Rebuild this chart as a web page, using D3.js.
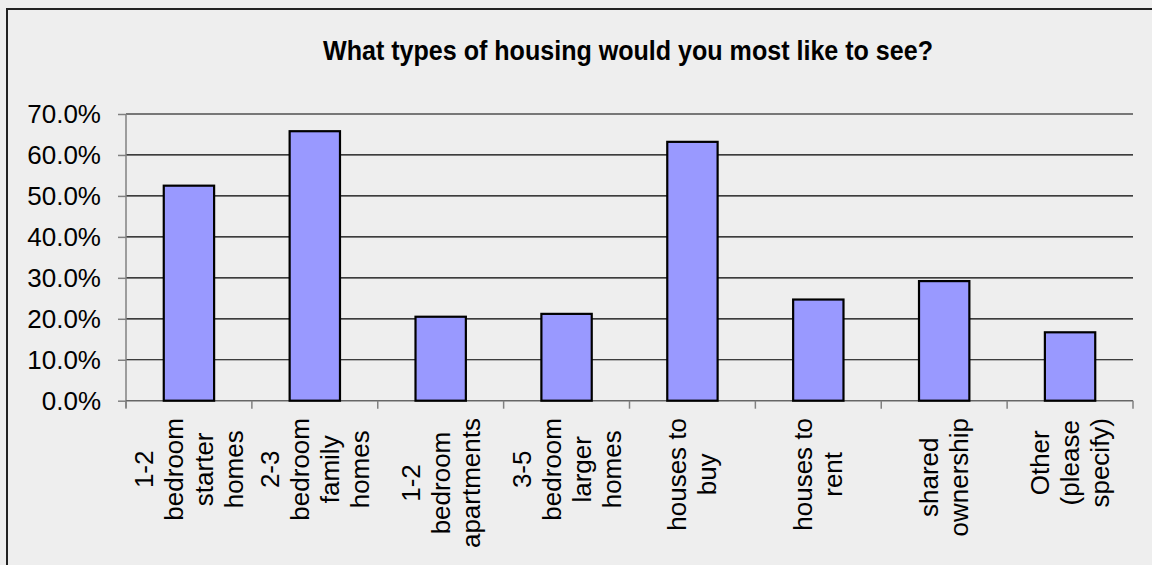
<!DOCTYPE html>
<html>
<head>
<meta charset="utf-8">
<script src="https://cdn.jsdelivr.net/npm/d3@7"></script>
<style>
  html, body { margin: 0; padding: 0; background: #eeeeee; }
  svg { display: block; }
</style>
</head>
<body>
<svg id="chart" width="1152" height="565"></svg>
<script>
// Survey answers: share of respondents choosing each housing type
const categories = [
  "1-2 bedroom starter homes",
  "2-3 bedroom family homes",
  "1-2 bedroom apartments",
  "3-5 bedroom larger homes",
  "houses to buy",
  "houses to rent",
  "shared ownership",
  "Other (please specify)"
];
// Wrapped category labels, one entry per line
const categoryLines = [
  ["1-2", "bedroom", "starter", "homes"],
  ["2-3", "bedroom", "family", "homes"],
  ["1-2", "bedroom", "apartments"],
  ["3-5", "bedroom", "larger", "homes"],
  ["houses to", "buy"],
  ["houses to", "rent"],
  ["shared", "ownership"],
  ["Other", "(please", "specify)"]
];
const percentages = [52.5, 65.8, 20.5, 21.2, 63.2, 24.7, 29.2, 16.7];
const yTicks = [0, 10, 20, 30, 40, 50, 60, 70];
const title = "What types of housing would you most like to see?";

const svg = d3.select("#chart");
const plot = { left: 126, right: 1133, top: 114, bottom: 400.7 };
const labelFont = "'Liberation Sans', Arial, sans-serif";

// Outer chart frame (continues past the right and bottom edges)
svg.append("rect")
  .attr("x", 7).attr("y", 9)
  .attr("width", 1200).attr("height", 600)
  .attr("fill", "#eeeeee")
  .attr("stroke", "#222").attr("stroke-width", 2);

const x = d3.scaleBand()
  .domain(categories)
  .range([plot.left, plot.right])
  .paddingInner(0.6)
  .paddingOuter(0.3);

const y = d3.scaleLinear()
  .domain([0, 70])
  .range([plot.bottom, plot.top]);

// Horizontal gridlines
svg.append("g")
  .selectAll("line")
  .data(yTicks.filter(d => d > 0))
  .join("line")
  .attr("x1", plot.left).attr("x2", plot.right)
  .attr("y1", d => y(d)).attr("y2", d => y(d))
  .attr("stroke", "#000").attr("stroke-width", 1.2);

// Y axis
const yAxis = svg.append("g")
  .attr("transform", `translate(${plot.left},0)`)
  .call(d3.axisLeft(y).tickValues(yTicks).tickSize(8).tickPadding(17)
    .tickFormat(d => d.toFixed(1) + "%"));
yAxis.select(".domain").attr("stroke", "#808080").attr("stroke-width", 1.5)
  .attr("d", `M0,${plot.top}V${plot.bottom + 7}`);
yAxis.selectAll(".tick line").attr("stroke", "#808080").attr("stroke-width", 1.5);
yAxis.selectAll(".tick text")
  .attr("font-family", labelFont).attr("font-size", 26).attr("fill", "#000");

// X axis: ticks at category boundaries
const step = x.step();
const boundaries = d3.range(categories.length + 1).map(i => plot.left + i * step);
svg.append("line")
  .attr("x1", plot.left).attr("x2", plot.right)
  .attr("y1", plot.bottom).attr("y2", plot.bottom)
  .attr("stroke", "#666").attr("stroke-width", 1.5);
svg.append("g")
  .selectAll("line")
  .data(boundaries)
  .join("line")
  .attr("x1", d => d).attr("x2", d => d)
  .attr("y1", plot.bottom).attr("y2", plot.bottom + 8)
  .attr("stroke", "#808080").attr("stroke-width", 1.5);

// Bars
svg.append("g")
  .selectAll("rect")
  .data(percentages)
  .join("rect")
  .attr("x", (d, i) => x(categories[i]))
  .attr("width", x.bandwidth())
  .attr("y", d => y(d))
  .attr("height", d => y(0) - y(d))
  .attr("fill", "#9999ff")
  .attr("stroke", "#000").attr("stroke-width", 2.2);

// Rotated, centre-aligned category labels hanging below the axis
const lineGap = 30;
const labelTop = 418;
categoryLines.forEach((lines, i) => {
  const cx = x(categories[i]) + x.bandwidth() / 2;
  const g = svg.append("g");
  const texts = lines.map((t, j) => g.append("text")
    .attr("font-family", labelFont).attr("font-size", 26)
    .attr("fill", "#000").attr("text-anchor", "middle")
    .text(t));
  const maxLen = d3.max(texts, t => t.node().getComputedTextLength());
  const cy = labelTop + maxLen / 2;
  texts.forEach((t, j) => {
    const bx = cx + (j - (lines.length - 1) / 2) * lineGap + 9;
    t.attr("transform", `translate(${bx},${cy}) rotate(-90)`);
  });
});

// Title
svg.append("text")
  .attr("x", 628).attr("y", 60)
  .attr("text-anchor", "middle")
  .attr("font-family", "'Liberation Sans Narrow', 'Arial Narrow', 'Liberation Sans', sans-serif")
  .attr("font-weight", "bold")
  .attr("font-size", 28)
  .attr("textLength", 610)
  .attr("lengthAdjust", "spacingAndGlyphs")
  .attr("fill", "#000")
  .text(title);
</script>
</body>
</html>
